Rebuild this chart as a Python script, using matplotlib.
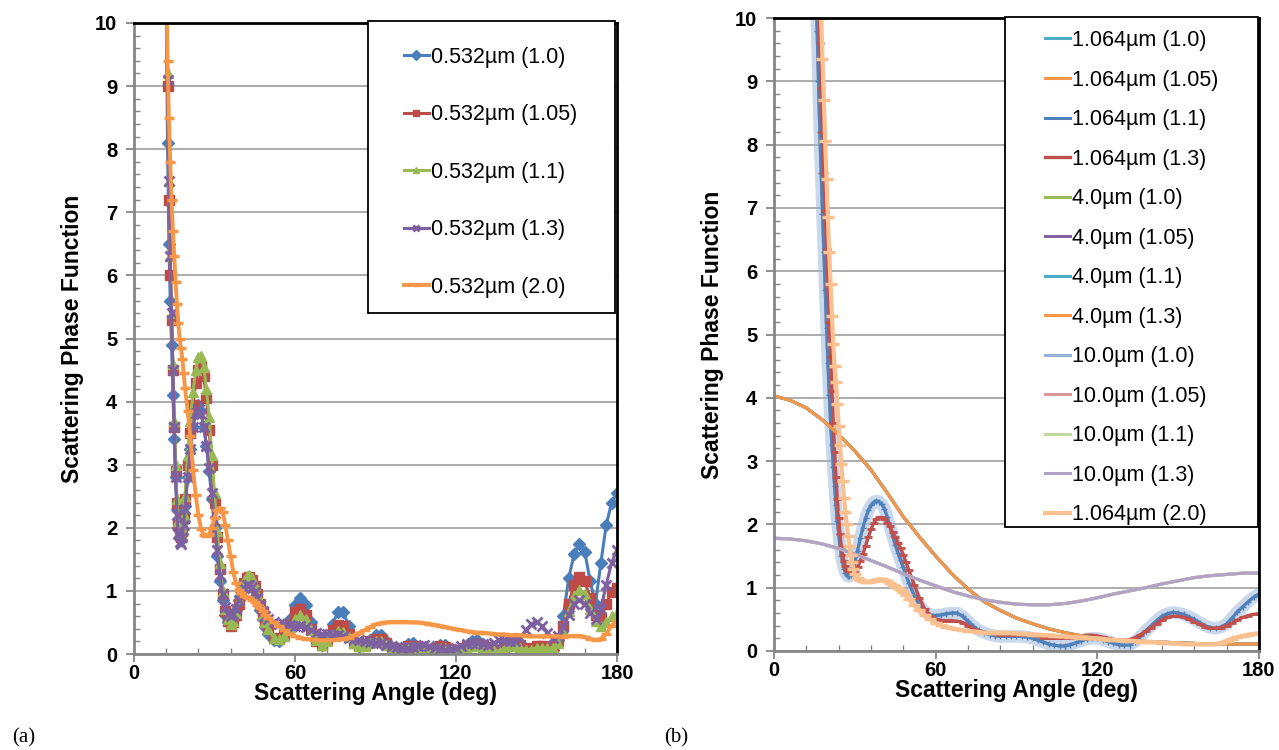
import matplotlib
matplotlib.use("Agg")
import matplotlib.pyplot as plt
from matplotlib.patches import Rectangle
from matplotlib.ticker import MultipleLocator

SANS = ["Liberation Sans", "DejaVu Sans"]
SERIF = ["Liberation Serif", "DejaVu Serif"]
plt.rcParams["font.family"] = SANS

# ---------------- (a) 0.532 um, angle in deg ----------------
ang_a = ([11, 12, 12.5, 13, 13.5, 14, 14.5, 15, 15.5, 16, 16.5, 17, 17.5, 18, 18.5, 19]
         + list(range(20, 51)) + list(range(52, 181, 2)))

p532_10 = [14.0, 10.2, 8.1, 6.5, 5.6, 4.9, 4.1, 3.4, 2.8, 2.3, 2.0, 1.85, 1.8, 1.9, 2.1, 2.35,
           2.8, 3.25, 3.6, 3.85, 3.95, 3.85, 3.6, 3.3, 2.9, 2.45,
           2.0, 1.55, 1.15, 0.85, 0.62, 0.5, 0.48, 0.55, 0.7, 0.85,
           1.0, 1.1, 1.15, 1.15, 1.1, 1.0, 0.85, 0.7, 0.55, 0.42, 0.32,
           0.22, 0.2, 0.3, 0.55, 0.78, 0.88, 0.78, 0.5, 0.22, 0.14,
           0.25, 0.48, 0.66, 0.66, 0.45, 0.22, 0.12, 0.14, 0.22, 0.3,
           0.3, 0.2, 0.08, 0.04, 0.08, 0.16, 0.17, 0.1, 0.05, 0.05,
           0.1, 0.15, 0.14, 0.07, 0.05, 0.08, 0.15, 0.21, 0.22, 0.16,
           0.09, 0.05, 0.06, 0.13, 0.22, 0.24, 0.17, 0.08, 0.06, 0.1,
           0.09, 0.06, 0.06, 0.22, 0.6, 1.2, 1.58, 1.75, 1.62, 1.15,
           0.8, 1.45, 2.05, 2.4, 2.55]

p532_105 = [14.0, 10.3, 9.0, 7.2, 6.0, 5.3, 4.5, 3.6, 2.9, 2.4, 2.05, 1.9, 1.85, 1.95, 2.15, 2.45,
            3.0, 3.5, 3.95, 4.3, 4.5, 4.55, 4.4, 4.05, 3.55, 3.0,
            2.4, 1.85, 1.35, 0.95, 0.68, 0.52, 0.45, 0.5, 0.62, 0.8,
            0.98, 1.12, 1.2, 1.22, 1.18, 1.08, 0.95, 0.8, 0.65, 0.5, 0.4,
            0.26, 0.24, 0.3, 0.48, 0.66, 0.72, 0.62, 0.4, 0.2, 0.15,
            0.22, 0.38, 0.46, 0.45, 0.32, 0.18, 0.12, 0.14, 0.2, 0.24,
            0.24, 0.18, 0.1, 0.06, 0.08, 0.12, 0.13, 0.09, 0.05, 0.05,
            0.08, 0.12, 0.11, 0.07, 0.05, 0.07, 0.12, 0.15, 0.16, 0.13,
            0.08, 0.05, 0.06, 0.1, 0.16, 0.18, 0.14, 0.09, 0.08, 0.12,
            0.12, 0.1, 0.12, 0.2, 0.45, 0.8, 1.1, 1.22, 1.15, 0.88,
            0.62, 0.55, 0.8, 0.98, 1.05]

p532_11 = [14.0, 10.3, 9.2, 7.5, 6.3, 5.4, 4.6, 3.7, 3.0, 2.45, 2.1, 1.95, 1.9, 2.0, 2.2, 2.5,
           3.15, 3.7, 4.15, 4.5, 4.7, 4.72, 4.55, 4.2, 3.75, 3.15,
           2.55, 1.95, 1.45, 1.0, 0.72, 0.55, 0.48, 0.52, 0.65, 0.85,
           1.02, 1.15, 1.23, 1.25, 1.2, 1.1, 0.95, 0.8, 0.64, 0.5, 0.4,
           0.26, 0.24, 0.28, 0.42, 0.56, 0.62, 0.55, 0.38, 0.22, 0.15,
           0.2, 0.3, 0.36, 0.35, 0.27, 0.17, 0.12, 0.13, 0.18, 0.2,
           0.2, 0.15, 0.09, 0.05, 0.06, 0.1, 0.11, 0.08, 0.04, 0.04,
           0.06, 0.1, 0.09, 0.04, 0.01, 0.03, 0.08, 0.12, 0.13, 0.1,
           0.06, 0.04, 0.05, 0.08, 0.12, 0.13, 0.1, 0.07, 0.07, 0.1,
           0.1, 0.09, 0.1, 0.18, 0.38, 0.68, 0.92, 1.02, 0.95, 0.72,
           0.52, 0.45, 0.5, 0.6, 0.65]

p532_13 = [14.0, 10.5, 9.1, 7.5, 6.3, 5.4, 4.5, 3.6, 2.8, 2.2, 1.9, 1.78, 1.75, 1.85, 2.05, 2.3,
           2.8, 3.25, 3.6, 3.82, 3.88, 3.8, 3.6, 3.3, 2.95, 2.55,
           2.1, 1.65, 1.25, 0.95, 0.75, 0.64, 0.6, 0.63, 0.72, 0.85,
           0.97, 1.05, 1.1, 1.1, 1.06, 0.98, 0.88, 0.78, 0.68, 0.6, 0.55,
           0.5, 0.48, 0.47, 0.46, 0.45, 0.44, 0.42, 0.38, 0.34, 0.32,
           0.31, 0.3, 0.3, 0.28, 0.26, 0.24, 0.22, 0.2, 0.19, 0.18,
           0.17, 0.15, 0.13, 0.11, 0.1, 0.1, 0.11, 0.13, 0.14, 0.13,
           0.1, 0.08, 0.07, 0.08, 0.1, 0.13, 0.16, 0.18, 0.18, 0.16,
           0.15, 0.18, 0.22, 0.22, 0.2, 0.2, 0.26, 0.38, 0.47, 0.5,
           0.45, 0.34, 0.25, 0.28, 0.42, 0.62, 0.8, 0.85, 0.8, 0.65,
           0.55, 0.72, 1.1, 1.45, 1.65]

p532_20 = [14.0, 10.8, 9.4, 8.5, 7.8, 7.2, 6.7, 6.3, 5.9, 5.55, 5.25, 5.0, 4.85, 4.68, 4.45, 4.22,
           3.85, 3.45, 2.92, 2.52, 2.2, 1.98, 1.88, 1.87, 1.9, 2.0,
           2.15, 2.28, 2.32, 2.25, 2.05, 1.8, 1.55, 1.3, 1.12, 1.02,
           0.96, 0.92, 0.9, 0.88, 0.86, 0.82, 0.78, 0.73, 0.68, 0.62, 0.57,
           0.5, 0.45, 0.38, 0.32, 0.28, 0.26, 0.24, 0.23, 0.22, 0.22,
           0.22, 0.22, 0.23, 0.24, 0.26, 0.3, 0.34, 0.38, 0.43, 0.47,
           0.49, 0.5, 0.51, 0.51, 0.51, 0.51, 0.5, 0.5, 0.49, 0.48,
           0.46, 0.45, 0.43, 0.41, 0.39, 0.38, 0.36, 0.35, 0.34, 0.34,
           0.33, 0.32, 0.31, 0.31, 0.3, 0.3, 0.3, 0.29, 0.28, 0.28,
           0.28, 0.28, 0.28, 0.28, 0.27, 0.28, 0.29, 0.29, 0.27, 0.24,
           0.22, 0.24, 0.32, 0.45, 0.53]

labels_a = ["0.532µm (1.0)", "0.532µm (1.05)", "0.532µm (1.1)", "0.532µm (1.3)", "0.532µm (2.0)"]

# ---------------- (b) 1.064 / 4.0 / 10.0 um ----------------
ang_b = ([0, 2, 4, 6, 8, 10, 12, 14] + [15 + 0.5 * i for i in range(30)]
         + list(range(30, 51)) + list(range(52, 181, 2)))

p1064_lo = [80, 70, 55, 42, 32, 24, 18, 13,
            11.2, 10.5, 9.8, 9.0, 8.2, 7.55, 6.9, 6.3, 5.7, 5.1,
            4.55, 4.05, 3.6, 3.25, 2.9, 2.6, 2.3, 2.05, 1.85, 1.65,
            1.5, 1.4, 1.3, 1.24, 1.2, 1.18, 1.18, 1.2, 1.25, 1.32,
            1.4, 1.58, 1.78, 1.95, 2.1, 2.22, 2.3, 2.35, 2.37, 2.36,
            2.32, 2.25, 2.12, 1.97, 1.82, 1.68, 1.55, 1.43, 1.32, 1.2, 1.08,
            0.88, 0.72, 0.62, 0.57, 0.56, 0.57, 0.59, 0.6, 0.6, 0.55,
            0.47, 0.39, 0.33, 0.29, 0.26, 0.24, 0.23, 0.23, 0.23, 0.23,
            0.23, 0.22, 0.2, 0.17, 0.14, 0.11, 0.09, 0.08, 0.08, 0.1,
            0.13, 0.16, 0.19, 0.2, 0.2, 0.18, 0.15, 0.12, 0.1, 0.09,
            0.1, 0.15, 0.23, 0.32, 0.4, 0.48, 0.55, 0.59, 0.61, 0.6,
            0.58, 0.54, 0.5, 0.45, 0.4, 0.37, 0.36, 0.38, 0.43, 0.52,
            0.62, 0.7, 0.78, 0.85, 0.9]

p1064_13 = [85, 74, 58, 45, 34, 26, 19.5, 14,
            12.3, 11.6, 10.9, 10.25, 9.6, 8.9, 8.2, 7.55, 6.95, 6.35,
            5.78, 5.2, 4.65, 4.1, 3.6, 3.15, 2.75, 2.4, 2.1, 1.85,
            1.65, 1.52, 1.42, 1.35, 1.3, 1.27, 1.26, 1.25, 1.25, 1.26,
            1.27, 1.33, 1.42, 1.53, 1.66, 1.8, 1.92, 2.02, 2.08, 2.11,
            2.11, 2.09, 2.03, 1.97, 1.88, 1.8, 1.71, 1.62, 1.52, 1.4, 1.28,
            1.05, 0.83, 0.66, 0.56, 0.5, 0.48, 0.48, 0.48, 0.47, 0.45,
            0.4, 0.35, 0.32, 0.3, 0.28, 0.27, 0.26, 0.26, 0.26, 0.25,
            0.25, 0.25, 0.25, 0.23, 0.21, 0.2, 0.2, 0.2, 0.2, 0.21,
            0.22, 0.24, 0.25, 0.25, 0.24, 0.22, 0.2, 0.18, 0.17, 0.17,
            0.18, 0.21, 0.26, 0.31, 0.37, 0.43, 0.49, 0.53, 0.55, 0.55,
            0.53, 0.5, 0.46, 0.42, 0.38, 0.36, 0.36, 0.37, 0.4, 0.44,
            0.49, 0.53, 0.56, 0.58, 0.59]

p1064_20 = [90, 75, 60, 46, 35, 26, 20, 15.5,
            13.5, 12.8, 12.1, 11.4, 10.7, 10.0, 9.35, 8.7, 8.05, 7.45,
            6.85, 6.3, 5.8, 5.3, 4.85, 4.5, 4.25, 3.9, 3.55, 3.25,
            2.95, 2.68, 2.42, 2.2, 2.0, 1.82, 1.66, 1.52, 1.4, 1.3,
            1.22, 1.15, 1.12, 1.1, 1.09, 1.09, 1.1, 1.11, 1.12, 1.13,
            1.13, 1.12, 1.11, 1.08, 1.05, 1.02, 0.99, 0.96, 0.93, 0.88, 0.82,
            0.73, 0.65, 0.57, 0.5, 0.45, 0.41, 0.38, 0.36, 0.34, 0.33,
            0.32, 0.31, 0.3, 0.29, 0.29, 0.29, 0.29, 0.29, 0.28, 0.28,
            0.27, 0.27, 0.26, 0.26, 0.25, 0.25, 0.24, 0.23, 0.23, 0.22,
            0.22, 0.21, 0.21, 0.2, 0.2, 0.19, 0.18, 0.18, 0.17, 0.17,
            0.16, 0.16, 0.15, 0.15, 0.14, 0.14, 0.13, 0.13, 0.12, 0.12,
            0.11, 0.11, 0.11, 0.11, 0.11, 0.11, 0.11, 0.13, 0.16, 0.19,
            0.22, 0.24, 0.26, 0.27, 0.28]

# the larger particles vary slowly, coarser angle step is enough
ang_s = list(range(0, 181, 6))
p40 = [4.03, 3.96, 3.84, 3.65, 3.42, 3.16, 2.86, 2.5, 2.12, 1.8, 1.5, 1.22, 0.98, 0.78, 0.64, 0.52,
       0.43, 0.35, 0.29, 0.24, 0.2, 0.18, 0.16, 0.15, 0.14, 0.13, 0.12, 0.11, 0.11, 0.11, 0.11]
p100 = [1.78, 1.77, 1.74, 1.69, 1.62, 1.53, 1.43, 1.33, 1.22, 1.12, 1.03, 0.94, 0.87, 0.81, 0.77, 0.74,
        0.73, 0.73, 0.75, 0.79, 0.84, 0.9, 0.95, 1.0, 1.06, 1.11, 1.16, 1.19, 1.21, 1.23, 1.23]

labels_b = ["1.064µm (1.0)", "1.064µm (1.05)", "1.064µm (1.1)", "1.064µm (1.3)",
            "4.0µm (1.0)", "4.0µm (1.05)", "4.0µm (1.1)", "4.0µm (1.3)",
            "10.0µm (1.0)", "10.0µm (1.05)", "10.0µm (1.1)", "10.0µm (1.3)",
            "1.064µm (2.0)"]


def style_axes(ax):
    ax.set_xlim(0, 180)
    ax.set_ylim(0, 10)
    ax.xaxis.set_major_locator(MultipleLocator(60))
    ax.xaxis.set_minor_locator(MultipleLocator(12))
    ax.yaxis.set_major_locator(MultipleLocator(1))
    ax.yaxis.set_minor_locator(MultipleLocator(0.2))
    ax.grid(axis="y", which="major", color="#A6A6A6", lw=1.3)
    ax.set_axisbelow(True)
    ax.tick_params(which="major", direction="out", length=6, width=1.3,
                   color="#868686", labelsize=14.5)
    ax.tick_params(axis="x", which="major", pad=1.5)
    ax.tick_params(axis="y", which="major", pad=6)
    ax.tick_params(which="minor", direction="in", length=4, width=1, color="#868686")
    for s in ("left", "bottom"):
        ax.spines[s].set_color("#868686")
        ax.spines[s].set_linewidth(2)
    for s in ("top", "right"):
        ax.spines[s].set_color("black")
        ax.spines[s].set_linewidth(2)
    for lab in ax.get_xticklabels() + ax.get_yticklabels():
        lab.set_fontweight("bold")
    ax.set_xlabel("Scattering Angle (deg)", fontsize=16.5, fontweight="bold")
    ax.set_ylabel("Scattering Phase Function", fontsize=16.5, fontweight="bold")
    ax.xaxis.set_label_coords(0.5, -0.044)
    ax.yaxis.set_label_coords(-0.103, 0.5)


def legend_box(ax, x0, y0, w, h, hx, hy, spacing, handles):
    ax.add_patch(Rectangle((x0, y0), w, h, transform=ax.transAxes, facecolor="white",
                           edgecolor="black", lw=1.3, zorder=4, clip_on=False))
    leg = ax.legend(handles=handles, loc="upper left", bbox_to_anchor=(hx, hy),
                    frameon=False, fontsize=15.5, labelspacing=spacing, handlelength=1.15,
                    handletextpad=0.1, borderpad=0, borderaxespad=0, numpoints=1)
    leg.set_zorder(5)


fig = plt.figure(figsize=(12.79, 7.5), dpi=100)
ax1 = fig.add_axes([134 / 1279, 96 / 750, 483 / 1279, 631 / 750])
ax2 = fig.add_axes([774 / 1279, 99 / 750, 485 / 1279, 633 / 750])

# panel (a)
lw = 2.2
h1 = ax1.plot(ang_a, p532_10, "-D", color="#4A7EBB", ms=6.5, lw=lw, label=labels_a[0])[0]
h2 = ax1.plot(ang_a, p532_105, "-s", color="#BE4B48", ms=7, lw=lw, label=labels_a[1])[0]
h3 = ax1.plot(ang_a, p532_11, "-^", color="#98B954", ms=7, lw=lw, label=labels_a[2])[0]
h4 = ax1.plot(ang_a, p532_13, "-x", color="#7D60A0", ms=6.5, mew=2, lw=lw, label=labels_a[3])[0]
h5 = ax1.plot(ang_a, p532_20, "-_", color="#F79646", ms=7, mew=2.5, lw=2.8, label=labels_a[4])[0]
style_axes(ax1)
legend_box(ax1, 0.4845, 0.5404, 0.5114, 0.4628, 0.559, 0.962, 1.69, [h1, h2, h3, h4, h5])
for hh in ax1.get_legend().legend_handles:
    hh.set_markersize(5)

# panel (b)
colors_b = ["#4BACC6", "#F79646", "#4F81BD", "#C0504D",
            "#9BBB59", "#8064A2", "#4BACC6", "#F79646",
            "#95B3D7", "#D99694", "#C3D69B", "#B3A2C7", "#FAC090"]
data_b = [(ang_b, p1064_lo), (ang_b, p1064_lo), (ang_b, p1064_lo), (ang_b, p1064_13),
          (ang_s, p40), (ang_s, p40), (ang_s, p40), (ang_s, p40),
          (ang_s, p100), (ang_s, p100), (ang_s, p100), (ang_s, p100),
          (ang_b, p1064_20)]
handles_b = []
for i, ((xa, ya), c, lab) in enumerate(zip(data_b, colors_b, labels_b)):
    if i == 2:
        ax2.plot(xa, ya, color="#9DB8DC", lw=9, alpha=0.55, solid_capstyle="round")
        h = ax2.plot(xa, ya, "-+", color=c, lw=2.2, ms=5, mew=1, label=lab)[0]
    elif i == 3:
        h = ax2.plot(xa, ya, "-_", color=c, lw=2.4, ms=6, mew=2, label=lab)[0]
    elif i == 12:
        h = ax2.plot(xa, ya, "-_", color=c, lw=3, ms=9, mew=2.5, label=lab)[0]
    else:
        h = ax2.plot(xa, ya, "-", color=c, lw=2.2, label=lab)[0]
    handles_b.append(h)
style_axes(ax2)
legend_box(ax2, 0.4763, 0.1959, 0.5216, 0.8057, 0.5588, 0.981, 0.86, handles_b)
for hh in ax2.get_legend().legend_handles:
    hh.set_markersize(0)

fig.text(12 / 1279, 1 - 738 / 750, "(a)", family=SERIF, fontsize=15, va="center")
fig.text(664 / 1279, 1 - 738 / 750, "(b)", family=SERIF, fontsize=15, va="center")

fig.savefig("out.png", dpi=100)
